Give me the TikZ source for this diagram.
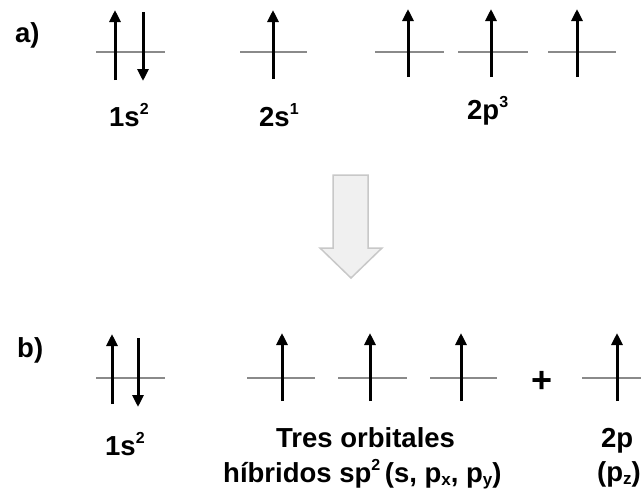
\documentclass[tikz,border=0pt]{standalone}
\usepackage{fontspec}
\setmainfont{Liberation Sans}
\usetikzlibrary{arrows.meta}
\definecolor{levelgray}{HTML}{8A8A8A}
\definecolor{blockfill}{HTML}{F0F0F0}
\definecolor{blockdraw}{HTML}{C8C8C8}
\newcommand\supr[1]{\raisebox{0.42em}{\fontsize{16}{16}\selectfont #1}}
\newcommand\subr[1]{\raisebox{-0.12em}{\fontsize{17}{17}\selectfont #1}}
\tikzset{
  level/.style={draw=levelgray, line width=2pt},
  spin/.style={draw=black, line width=3pt, -{Triangle[length=12pt,width=11pt]}},
  lbl/.style={inner sep=0pt, font=\fontsize{27.5}{30}\selectfont\bfseries, anchor=base west},
  blockarrow/.style={draw=blockdraw, fill=blockfill, line width=1.5pt, line join=miter},
}
\begin{document}
\begin{tikzpicture}[x=1pt, y=-1pt]
\useasboundingbox (0,0) rectangle (641,491);
% ---------- row a ----------
\node[lbl] (la) at (15,42) {a)};
% 1s
\coordinate (a1sL) at (96,52); \coordinate (a1sR) at (165,52);
\draw[level] (a1sL) -- (a1sR);
\coordinate (a1su0) at (115,80); \coordinate (a1su1) at (115,10);
\coordinate (a1sd0) at (143,12); \coordinate (a1sd1) at (143,81);
\draw[spin] (a1su0) -- (a1su1);
\draw[spin] (a1sd0) -- (a1sd1);
\node[lbl] (ta1s) at (109,126) {1s\supr{2}};
% 2s
\coordinate (a2sL) at (240,52); \coordinate (a2sR) at (307,52);
\draw[level] (a2sL) -- (a2sR);
\coordinate (a2su0) at (273,79); \coordinate (a2su1) at (273,10);
\draw[spin] (a2su0) -- (a2su1);
\node[lbl] (ta2s) at (259,126) {2s\supr{1}};
% 2p
\foreach \l/\r/\m [count=\i] in {375/444/408, 458/528/491, 548/616/577}{
  \coordinate (a2pL\i) at (\l,52); \coordinate (a2pR\i) at (\r,52);
  \draw[level] (a2pL\i) -- (a2pR\i);
  \coordinate (a2pu0\i) at (\m,77); \coordinate (a2pu1\i) at (\m,9);
  \draw[spin] (a2pu0\i) -- (a2pu1\i);
}
\node[lbl] (ta2p) at (467,119) {2p\supr{3}};
% ---------- block arrow ----------
\draw[blockarrow] (333,175) -- (368,175) -- (368,248) -- (382,248) -- (351,278) -- (320,248) -- (333,248) -- cycle;
% ---------- row b ----------
\node[lbl] (lb) at (17,357) {b)};
% 1s
\coordinate (b1sL) at (96,378); \coordinate (b1sR) at (165,378);
\draw[level] (b1sL) -- (b1sR);
\coordinate (b1su0) at (112,404); \coordinate (b1su1) at (112,334);
\coordinate (b1sd0) at (138,338); \coordinate (b1sd1) at (138,407);
\draw[spin] (b1su0) -- (b1su1);
\draw[spin] (b1sd0) -- (b1sd1);
\node[lbl] (tb1s) at (105,455) {1s\supr{2}};
% hybrids
\foreach \l/\r/\m [count=\i] in {247/315/282, 338/407/370, 430/497/461}{
  \coordinate (bhL\i) at (\l,378); \coordinate (bhR\i) at (\r,378);
  \draw[level] (bhL\i) -- (bhR\i);
  \coordinate (bhu0\i) at (\m,401); \coordinate (bhu1\i) at (\m,333);
  \draw[spin] (bhu0\i) -- (bhu1\i);
}
\node[lbl, anchor=center, font=\fontsize{36}{36}\selectfont\bfseries] (plus) at (542,382) {+};
% 2p (pz)
\coordinate (bpL) at (582,378); \coordinate (bpR) at (645,378);
\draw[level] (bpL) -- (bpR);
\coordinate (bpu0) at (617,401); \coordinate (bpu1) at (617,333);
\draw[spin] (bpu0) -- (bpu1);
% labels
\node[lbl] (tres) at (276,447) {Tres orbitales};
\node[lbl] (hib) at (223,482) {híbridos sp\supr{2}\,(s, p\subr{x}, p\subr{y})};
\node[lbl] (t2p) at (601,447) {2p};
\node[lbl] (tpz) at (597,481) {(p\subr{z})};
\end{tikzpicture}
\end{document}
